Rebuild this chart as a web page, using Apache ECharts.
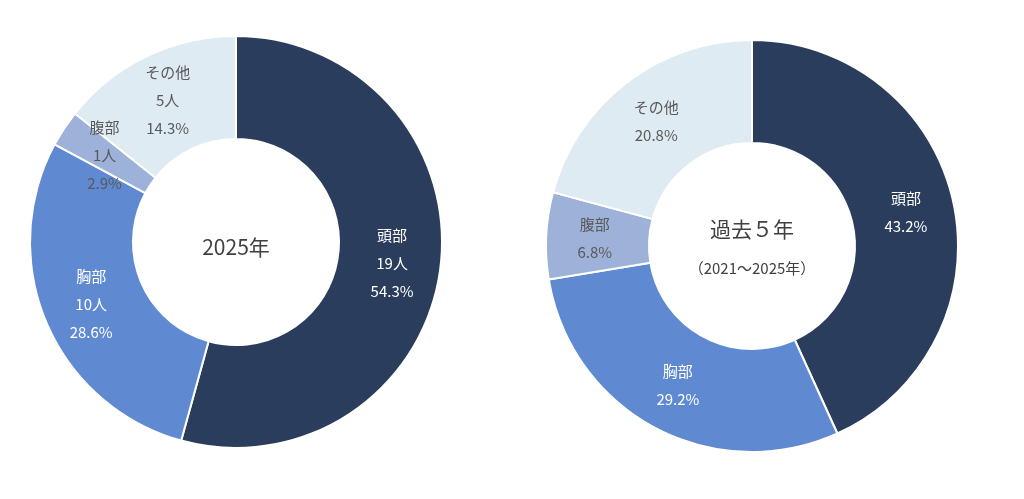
<!DOCTYPE html>
<html><head><meta charset="utf-8">
<script src="https://cdn.jsdelivr.net/npm/echarts@6/dist/echarts.min.js"></script>
<style>html,body{margin:0;background:#fff}#c{width:1024px;height:499px}</style>
</head><body><div id="c"></div>
<script>
const categories = ['頭部','胸部','腹部','その他'];
const counts2025 = [19, 10, 1, 5];
const pct5yr = [43.2, 29.2, 6.8, 20.8];
const colors = ['#2A3D5C','#5F8AD2','#9EB1D8','#DFEBF3'];
const labelColors = ['#fff','#fff','#595959','#595959'];
const font = '"Noto Sans CJK JP", sans-serif';
function mk(vals, fmt, center){
  return {type:'pie', center:center, radius:[103,206], startAngle:90, clockwise:true,
    itemStyle:{borderColor:'#fff', borderWidth:2},
    label:{position:'inside', formatter:fmt, fontSize:15, lineHeight:28, fontFamily:font},
    labelLine:{show:false}, silent:true,
    data: categories.map((n,i)=>({name:n, value:vals[i], itemStyle:{color:colors[i]}, label:{color:labelColors[i]}}))};
}
const chart = echarts.init(document.getElementById('c'));
chart.setOption({
  animation:false,
  series:[
    mk(counts2025, p=>p.name+'\n'+p.value+'人\n'+p.percent.toFixed(1)+'%', [236,242]),
    mk(pct5yr, p=>p.name+'\n'+p.value.toFixed(1)+'%', [752,246])
  ],
  graphic:[
    {type:'text', left:'center', style:{text:'2025年', x:236, y:247, fontSize:21, fill:'#404040', fontFamily:font, align:'center', verticalAlign:'middle'}, left:null},
    {type:'text', style:{text:'過去５年', x:752, y:229, fontSize:21, fill:'#404040', fontFamily:font, align:'center', verticalAlign:'middle'}},
    {type:'text', style:{text:'（2021～2025年）', x:752, y:268, fontSize:15, fill:'#404040', fontFamily:font, align:'center', verticalAlign:'middle'}}
  ]
});
</script></body></html>
